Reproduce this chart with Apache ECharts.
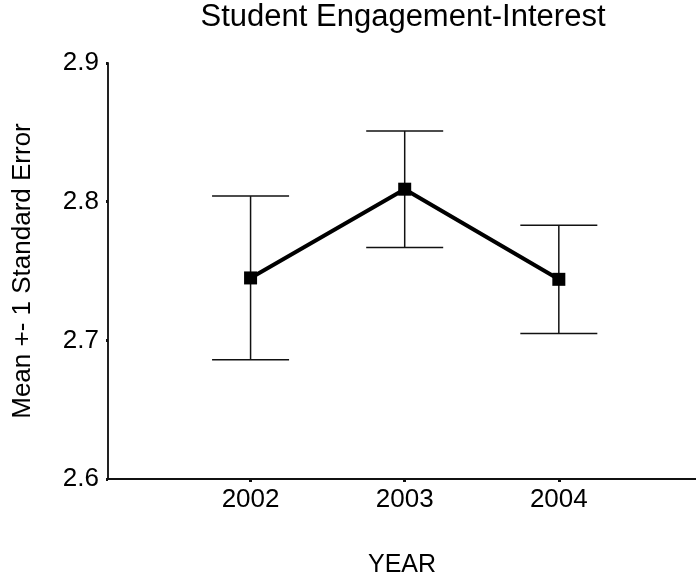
<!DOCTYPE html>
<html>
<head>
<meta charset="utf-8">
<script src="https://cdn.jsdelivr.net/npm/echarts@6/dist/echarts.min.js"></script>
<style>
  html, body { margin: 0; padding: 0; background: #fff; }
  #chart { width: 696px; height: 580px; }
</style>
</head>
<body>
<div id="chart"></div>
<script>
const years = [2002, 2003, 2004];
const means = [2.745, 2.809, 2.744];
const lowers = [2.686, 2.767, 2.705];
const uppers = [2.804, 2.851, 2.783];
const yTicks = [2.6, 2.7, 2.8, 2.9];

const FONT = '"Liberation Sans", Arial, sans-serif';
const chart = echarts.init(document.getElementById('chart'), null, { renderer: 'canvas' });

const errData = years.map((y, i) => [y, lowers[i], uppers[i]]);
const lineData = years.map((y, i) => [y, means[i]]);

chart.setOption({
  animation: false,
  backgroundColor: '#fff',
  title: {
    text: 'Student Engagement-Interest',
    left: 403,
    top: 2,
    padding: 0,
    textAlign: 'center',
    textStyle: { fontFamily: FONT, fontSize: 31, fontWeight: 'normal', color: '#000' }
  },
  grid: { left: 108, right: 0, top: 63, bottom: 101, containLabel: false, outerBoundsMode: 'none' },
  xAxis: {
    type: 'value',
    min: 2001.075,
    max: 2004.89,
    name: 'YEAR',
    nameLocation: 'middle',
    nameGap: 74,
    nameTextStyle: { fontFamily: FONT, fontSize: 25, color: '#000' },
    axisLine: { show: true, onZero: false, lineStyle: { color: '#111', width: 2 } },
    axisTick: { show: true, length: 3, customValues: years, lineStyle: { color: '#111', width: 3 } },
    axisLabel: { customValues: years, margin: 8, fontFamily: FONT, fontSize: 26, color: '#000', formatter: v => String(v) },
    splitLine: { show: false }
  },
  yAxis: {
    type: 'value',
    min: 2.6,
    max: 2.9,
    interval: 0.1,
    name: 'Mean +- 1 Standard Error',
    nameLocation: 'middle',
    nameGap: 72,
    nameTextStyle: { fontFamily: FONT, fontSize: 26, color: '#000' },
    axisLine: { show: true, onZero: false, lineStyle: { color: '#222', width: 2 } },
    axisTick: { show: true, length: 2, lineStyle: { color: '#111', width: 3 } },
    axisLabel: { customValues: yTicks, margin: 9, fontFamily: FONT, fontSize: 26, color: '#000', formatter: v => v.toFixed(1) },
    splitLine: { show: false }
  },
  series: [
    {
      type: 'custom',
      data: errData,
      z: 1,
      renderItem: function (params, api) {
        const x = api.value(0);
        const lo = api.coord([x, api.value(1)]);
        const hi = api.coord([x, api.value(2)]);
        const hw = 38.5;
        const style = { stroke: '#111', lineWidth: 1.5 };
        return {
          type: 'group',
          children: [
            { type: 'line', shape: { x1: lo[0], y1: lo[1], x2: hi[0], y2: hi[1] }, style },
            { type: 'line', shape: { x1: lo[0] - hw, y1: lo[1], x2: lo[0] + hw, y2: lo[1] }, style },
            { type: 'line', shape: { x1: hi[0] - hw, y1: hi[1], x2: hi[0] + hw, y2: hi[1] }, style }
          ]
        };
      }
    },
    {
      type: 'line',
      data: lineData,
      z: 2,
      symbol: 'rect',
      symbolSize: 13,
      lineStyle: { color: '#000', width: 4 },
      itemStyle: { color: '#000' }
    }
  ]
});
</script>
</body>
</html>
